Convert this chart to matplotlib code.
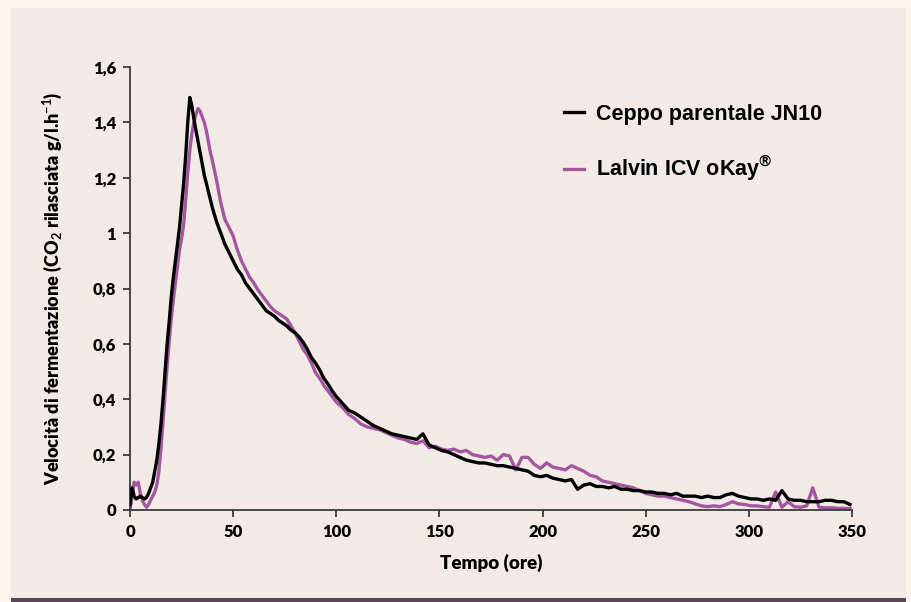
import numpy as np
import matplotlib
matplotlib.use("Agg")
import matplotlib.pyplot as plt
from matplotlib.patches import Rectangle

plt.rcParams["mathtext.fontset"] = "custom"
plt.rcParams["mathtext.bf"] = "Lato:bold"
plt.rcParams["mathtext.rm"] = "Lato:bold"
plt.rcParams["axes.unicode_minus"] = False

# time (hours) shared by both series
t_early = [0, 1, 2, 3, 4, 5, 6, 7, 8, 9, 10, 11, 12, 13, 14, 15, 16, 17, 18, 19,
           20, 21, 22, 23, 24, 25, 26, 27, 28, 29, 30, 31, 32, 33, 34, 35, 36, 37,
           38, 39, 40, 42, 44, 46, 48, 50, 52, 54, 56, 58, 60, 62, 64, 66, 68, 70,
           72, 74, 76, 78, 80, 82, 84, 86, 88, 90, 92, 94, 96, 98]
t_late = [100, 103, 106, 109, 112, 115, 118, 121, 124, 127, 130, 133, 136, 139,
          142, 145, 148, 151, 154, 157, 160, 163, 166, 169, 172, 175, 178, 181,
          184, 187, 190, 193, 196, 199, 202, 205, 208, 211, 214, 217, 220, 223,
          226, 229, 232, 235, 238, 241, 244, 247, 250, 253, 256, 259, 262, 265,
          268, 271, 274, 277, 280, 283, 286, 289, 292, 295, 298, 301, 304, 307,
          310, 313, 316, 319, 322, 325, 328, 331, 334, 337, 340, 343, 346, 349]

# Ceppo parentale JN10
jn10_early = [0.02, 0.08, 0.05, 0.04, 0.045, 0.05, 0.045, 0.04, 0.045, 0.06,
              0.08, 0.10, 0.14, 0.18, 0.24, 0.31, 0.40, 0.50, 0.60, 0.68,
              0.77, 0.84, 0.90, 0.96, 1.02, 1.10, 1.18, 1.28, 1.40, 1.49,
              1.46, 1.41, 1.37, 1.33, 1.29, 1.25, 1.21, 1.18, 1.15, 1.12,
              1.09, 1.04, 1.00, 0.96, 0.93, 0.90, 0.87, 0.85, 0.82, 0.80,
              0.78, 0.76, 0.74, 0.72, 0.71, 0.70, 0.685, 0.675, 0.665, 0.65,
              0.64, 0.625, 0.605, 0.58, 0.55, 0.53, 0.505, 0.475, 0.455, 0.43]
jn10_late = [0.41, 0.385, 0.36, 0.35, 0.335, 0.32, 0.305, 0.295, 0.285, 0.275,
             0.27, 0.265, 0.26, 0.255, 0.275, 0.235, 0.225, 0.215, 0.21, 0.2,
             0.19, 0.18, 0.175, 0.17, 0.17, 0.165, 0.16, 0.16, 0.155, 0.15,
             0.145, 0.14, 0.125, 0.12, 0.125, 0.115, 0.11, 0.105, 0.11, 0.075,
             0.09, 0.095, 0.085, 0.085, 0.08, 0.085, 0.075, 0.075, 0.07, 0.07,
             0.065, 0.065, 0.06, 0.06, 0.055, 0.06, 0.05, 0.05, 0.05, 0.045,
             0.05, 0.045, 0.045, 0.055, 0.06, 0.05, 0.045, 0.04, 0.04, 0.035,
             0.04, 0.035, 0.07, 0.04, 0.035, 0.035, 0.03, 0.03, 0.03, 0.035,
             0.035, 0.03, 0.03, 0.02]

# Lalvin ICV oKay
okay_early = [0.0, 0.05, 0.10, 0.09, 0.10, 0.06, 0.035, 0.02, 0.01, 0.02,
              0.035, 0.05, 0.065, 0.09, 0.14, 0.22, 0.32, 0.42, 0.52, 0.61,
              0.69, 0.76, 0.82, 0.88, 0.94, 0.98, 1.03, 1.12, 1.22, 1.30,
              1.36, 1.40, 1.43, 1.45, 1.44, 1.42, 1.40, 1.37, 1.33, 1.29,
              1.26, 1.19, 1.11, 1.05, 1.02, 0.99, 0.94, 0.90, 0.87, 0.84,
              0.82, 0.795, 0.775, 0.755, 0.735, 0.72, 0.71, 0.70, 0.69, 0.665,
              0.64, 0.61, 0.58, 0.56, 0.53, 0.495, 0.475, 0.45, 0.43, 0.41]
okay_late = [0.39, 0.37, 0.345, 0.33, 0.31, 0.30, 0.295, 0.29, 0.28, 0.27,
             0.26, 0.255, 0.245, 0.24, 0.25, 0.225, 0.23, 0.22, 0.215, 0.22,
             0.21, 0.215, 0.20, 0.195, 0.19, 0.195, 0.18, 0.20, 0.195, 0.145,
             0.19, 0.19, 0.165, 0.15, 0.17, 0.155, 0.15, 0.145, 0.16, 0.15,
             0.14, 0.125, 0.12, 0.105, 0.10, 0.095, 0.09, 0.085, 0.08, 0.07,
             0.06, 0.055, 0.05, 0.05, 0.045, 0.04, 0.035, 0.03, 0.022, 0.015,
             0.012, 0.015, 0.012, 0.02, 0.03, 0.022, 0.02, 0.015, 0.015, 0.012,
             0.01, 0.065, 0.01, 0.03, 0.012, 0.01, 0.015, 0.08, 0.01, 0.008,
             0.008, 0.006, 0.006, 0.005]

t_h = np.array(t_early + t_late)
jn10 = np.array(jn10_early + jn10_late)
okay = np.array(okay_early + okay_late)

y_ticks = [0, 0.2, 0.4, 0.6, 0.8, 1, 1.2, 1.4, 1.6]
y_labels = ["0", "0,2", "0,4", "0,6", "0,8", "1", "1,2", "1,4", "1,6"]
x_ticks = [0, 50, 100, 150, 200, 250, 300, 350]

W, H = 911, 602
fig = plt.figure(figsize=(W / 100, H / 100), dpi=100, facecolor="#fdf5ec")
# inner panel and bottom bar
fig.patches.append(Rectangle((11 / W, 1 - 598 / H), 895 / W, 590 / H,
                             transform=fig.transFigure, facecolor="#f2ebe5",
                             edgecolor="none", zorder=-2))
fig.patches.append(Rectangle((11 / W, 0), 895 / W, 4 / H,
                             transform=fig.transFigure, facecolor="#5a4458",
                             edgecolor="none", zorder=-2))

ax = fig.add_axes([130 / W, 1 - 510 / H, 722 / W, 443 / H])
ax.set_facecolor("none")

purple = "#a3579f"
ax.plot(t_h, okay, color=purple, lw=2.4, label="Lalvin ICV oKay$^{\\circledR}$", zorder=2)
ax.plot(t_h, jn10, color="black", lw=2.4, label="Ceppo parentale JN10", zorder=3)

ax.set_xlim(0, 350)
ax.set_ylim(0, 1.6)
ax.set_xticks(x_ticks)
ax.set_yticks(y_ticks)
ax.set_yticklabels(y_labels)

narrow = ["Lato", "DejaVu Sans"]
for lab in ax.get_xticklabels() + ax.get_yticklabels():
    lab.set_fontfamily(narrow)
    lab.set_fontweight("heavy")
    lab.set_fontsize(12)

for s in ["top", "right"]:
    ax.spines[s].set_visible(False)
for s in ["left", "bottom"]:
    ax.spines[s].set_color("#3a3a3a")
    ax.spines[s].set_linewidth(1.3)
ax.tick_params(direction="out", length=5, width=1.3, color="#3a3a3a", pad=5)

ax.set_xlabel("Tempo (ore)", fontfamily=narrow, fontweight="heavy",
              fontsize=13.5, labelpad=10)
ax.set_ylabel("Velocità di fermentazione (CO$_\\mathbf{2}$ rilasciata g/l.h$^\\mathbf{-1}$)",
              fontfamily=narrow, fontweight="heavy", fontsize=13, labelpad=21)

handles, labels = ax.get_legend_handles_labels()
leg = ax.legend(handles[::-1], labels[::-1], loc="upper left",
                bbox_to_anchor=(553 / W, 1 - 93 / H), bbox_transform=fig.transFigure,
                frameon=False, handlelength=0.95, handletextpad=0.55, labelspacing=1.36,
                borderpad=0, prop=dict(family="Liberation Sans", weight="bold", size=15.5))

fig.savefig("out.png", dpi=100, facecolor=fig.get_facecolor())
